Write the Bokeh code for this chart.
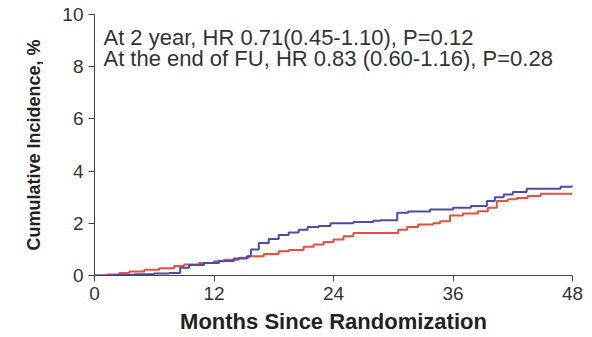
from bokeh.plotting import figure
from bokeh.models import Range1d, FixedTicker, Label
from bokeh.embed import file_html
from bokeh.resources import INLINE

# data
red_months = [0, 1.3, 2.5, 3.5, 5, 6.5, 8, 9, 10.5, 12, 13, 14.5, 15.5, 17, 18.5, 19.5, 21, 22, 23, 24, 25, 26, 29.7, 30.5, 31.4, 32.5, 34, 34.7, 35.7, 37, 38.5, 39.5, 40.4, 41.5, 42.4, 43.5, 44.8, 48]
red_vals = [0, 0.04, 0.1, 0.15, 0.22, 0.28, 0.36, 0.42, 0.48, 0.55, 0.6, 0.68, 0.74, 0.82, 0.93, 0.98, 1.1, 1.19, 1.28, 1.38, 1.5, 1.63, 1.63, 1.75, 1.86, 1.95, 2.0, 2.08, 2.3, 2.38, 2.46, 2.6, 2.85, 2.92, 2.97, 3.05, 3.13, 3.13]
blue_months = [0, 2, 4, 6, 7.5, 8.6, 9.5, 11, 12.5, 14, 15.3, 15.7, 16.5, 17.5, 18.5, 19.5, 20.5, 21.4, 22.5, 23.7, 26, 28, 28.7, 30.4, 31.5, 33.7, 36, 37.8, 39.4, 40.2, 41.1, 42, 43.4, 46.8, 48]
blue_vals = [0, 0.02, 0.05, 0.08, 0.1, 0.3, 0.4, 0.48, 0.56, 0.65, 0.74, 1.0, 1.25, 1.4, 1.55, 1.65, 1.75, 1.86, 1.9, 2.0, 2.05, 2.1, 2.12, 2.4, 2.45, 2.53, 2.6, 2.66, 2.85, 3.0, 3.1, 3.2, 3.32, 3.4, 3.46]
x_ticks = [0, 12, 24, 36, 48]
y_ticks = [0, 2, 4, 6, 8, 10]
annot_lines = ["At 2 year, HR 0.71(0.45-1.10), P=0.12",
               "At the end of FU, HR 0.83 (0.60-1.16), P=0.28"]
annot_y = [9.1, 8.3]
x_title = "Months Since Randomization"
y_title = "Cumulative Incidence, %"

p = figure(width=592, height=337, output_backend="svg", toolbar_location=None,
           x_range=Range1d(0, 48), y_range=Range1d(0, 10),
           min_border_left=94, min_border_right=20, min_border_top=14, min_border_bottom=62)
p.outline_line_color = None
p.grid.visible = False
p.background_fill_color = "white"
p.border_fill_color = "white"

p.step(red_months, red_vals, mode="after", line_color="#e8503c", line_width=2)
p.step(blue_months, blue_vals, mode="after", line_color="#4b4bab", line_width=2)

for ax, ticks in ((p.xaxis, x_ticks), (p.yaxis, y_ticks)):
    ax.ticker = FixedTicker(ticks=ticks)
    ax.minor_tick_line_color = None
    ax.axis_line_color = "#444444"
    ax.major_tick_line_color = "#444444"
    ax.major_tick_out = 6
    ax.major_tick_in = 0
    ax.major_label_text_font = "Liberation Sans"
    ax.major_label_text_font_size = "19px"
    ax.major_label_text_color = "#333333"
    ax.axis_label_text_font = "Liberation Sans"
    ax.axis_label_text_font_style = "bold"
    ax.axis_label_text_color = "#222222"

p.xaxis.major_label_standoff = 5
p.xaxis.axis_label = x_title
p.xaxis.axis_label_text_font_size = "22px"
p.xaxis.axis_label_standoff = 6
p.yaxis.major_label_standoff = 5
p.yaxis.axis_label = y_title
p.yaxis.axis_label_text_font_size = "18px"
p.yaxis.axis_label_standoff = 15

for t, yv in zip(annot_lines, annot_y):
    p.add_layout(Label(x=0.9, y=yv, text=t, text_font="Liberation Sans",
                       text_font_size="22px", text_color="#333333",
                       text_baseline="middle"))

html = file_html(p, INLINE)
open("out.html", "w").write(html)
